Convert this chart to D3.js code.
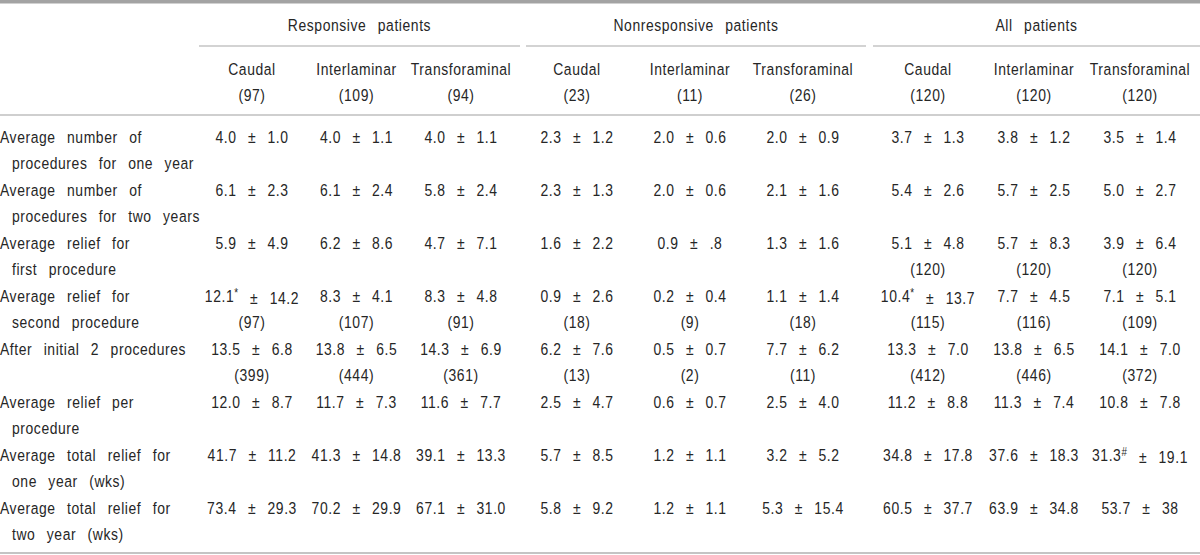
<!DOCTYPE html>
<html>
<head>
<meta charset="utf-8">
<script src="https://cdn.jsdelivr.net/npm/d3@7"></script>
<style>
  body { margin: 0; background: #fff; }
  svg text { font-family: "Liberation Sans", Arial, sans-serif; font-size: 17px; fill: #262626; letter-spacing: 0.7px; word-spacing: 8.5px; }
</style>
</head>
<body>
<div id="chart"></div>
<script>
// Table contents
const groups = ["Responsive patients", "Nonresponsive patients", "All patients"];
const methods = ["Caudal", "Interlaminar", "Transforaminal"];
const groupN = [[97, 109, 94], [23, 11, 26], [120, 120, 120]];

const rowLabels = [
  ["Average number of", "procedures for one year"],
  ["Average number of", "procedures for two years"],
  ["Average relief for", "first procedure"],
  ["Average relief for", "second procedure"],
  ["After initial 2 procedures"],
  ["Average relief per", "procedure"],
  ["Average total relief for", "one year (wks)"],
  ["Average total relief for", "two year (wks)"]
];

// 9 columns per row: responsive x3, nonresponsive x3, all x3
const means = [
  ["4.0", "4.0", "4.0", "2.3", "2.0", "2.0", "3.7", "3.8", "3.5"],
  ["6.1", "6.1", "5.8", "2.3", "2.0", "2.1", "5.4", "5.7", "5.0"],
  ["5.9", "6.2", "4.7", "1.6", "0.9", "1.3", "5.1", "5.7", "3.9"],
  ["12.1", "8.3", "8.3", "0.9", "0.2", "1.1", "10.4", "7.7", "7.1"],
  ["13.5", "13.8", "14.3", "6.2", "0.5", "7.7", "13.3", "13.8", "14.1"],
  ["12.0", "11.7", "11.6", "2.5", "0.6", "2.5", "11.2", "11.3", "10.8"],
  ["41.7", "41.3", "39.1", "5.7", "1.2", "3.2", "34.8", "37.6", "31.3"],
  ["73.4", "70.2", "67.1", "5.8", "1.2", "5.3", "60.5", "63.9", "53.7"]
];
const sds = [
  ["1.0", "1.1", "1.1", "1.2", "0.6", "0.9", "1.3", "1.2", "1.4"],
  ["2.3", "2.4", "2.4", "1.3", "0.6", "1.6", "2.6", "2.5", "2.7"],
  ["4.9", "8.6", "7.1", "2.2", ".8", "1.6", "4.8", "8.3", "6.4"],
  ["14.2", "4.1", "4.8", "2.6", "0.4", "1.4", "13.7", "4.5", "5.1"],
  ["6.8", "6.5", "6.9", "7.6", "0.7", "6.2", "7.0", "6.5", "7.0"],
  ["8.7", "7.3", "7.7", "4.7", "0.7", "4.0", "8.8", "7.4", "7.8"],
  ["11.2", "14.8", "13.3", "8.5", "1.1", "5.2", "17.8", "18.3", "19.1"],
  ["29.3", "29.9", "31.0", "9.2", "1.1", "15.4", "37.7", "34.8", "38"]
];
const marks = [
  ["", "", "", "", "", "", "", "", ""],
  ["", "", "", "", "", "", "", "", ""],
  ["", "", "", "", "", "", "", "", ""],
  ["*", "", "", "", "", "", "*", "", ""],
  ["", "", "", "", "", "", "", "", ""],
  ["", "", "", "", "", "", "", "", ""],
  ["", "", "", "", "", "", "", "", "#"],
  ["", "", "", "", "", "", "", "", ""]
];
const counts = [
  [null, null, null, null, null, null, null, null, null],
  [null, null, null, null, null, null, null, null, null],
  [null, null, null, null, null, null, 120, 120, 120],
  [97, 107, 91, 18, 9, 18, 115, 116, 109],
  [399, 444, 361, 13, 2, 11, 412, 446, 372],
  [null, null, null, null, null, null, null, null, null],
  [null, null, null, null, null, null, null, null, null],
  [null, null, null, null, null, null, null, null, null]
];

const width = 1200, height = 555;
const lineGap = 26.4;
const sx = 0.82; // condensed look of the original typeface

const svg = d3.select("#chart")
  .append("svg")
  .attr("width", width)
  .attr("height", height);

// group spans (rules under the group headers) and column centres
const groupSpans = [[199, 520], [526, 866], [873, 1200]];
const colRanges = [[252, 461], [577, 803], [928, 1140]];
const colX = colRanges.map(r => d3.scalePoint().domain(methods).range(r));

const y = d3.scalePoint()
  .domain(d3.range(rowLabels.length))
  .range([137, 508]);

// narrow text helper
function addText(x, yy, anchor) {
  return svg.append("text")
    .attr("transform", `translate(${x},${yy}) scale(${sx},1)`)
    .attr("dy", "0.35em")
    .attr("text-anchor", anchor || "start");
}

// rules
svg.append("rect").attr("x", 0).attr("y", 0).attr("width", width).attr("height", 3.5).attr("fill", "#a3a3a3");
svg.append("line").attr("x1", 0).attr("x2", width).attr("y1", 115).attr("y2", 115)
  .attr("stroke", "#cfcfcf").attr("stroke-width", 2);
svg.append("line").attr("x1", 0).attr("x2", width).attr("y1", 553).attr("y2", 553)
  .attr("stroke", "#c4c4c4").attr("stroke-width", 2);

// group headers
groups.forEach((g, gi) => {
  const [a, b] = groupSpans[gi];
  addText((a + b) / 2, 25, "middle").text(g);
  svg.append("line")
    .attr("x1", a).attr("x2", b).attr("y1", 46).attr("y2", 46)
    .attr("stroke", "#c4c4c4").attr("stroke-width", 1.5);

  methods.forEach((m, mi) => {
    addText(colX[gi](m), 69, "middle").text(m);
    addText(colX[gi](m), 95, "middle").text(`(${groupN[gi][mi]})`);
  });
});

// row labels
rowLabels.forEach((lines, ri) => {
  lines.forEach((l, li) => {
    addText(li === 0 ? 0 : 12, y(ri) + li * lineGap).text(l);
  });
});

// cells
means.forEach((row, ri) => {
  row.forEach((m, ci) => {
    const gi = Math.floor(ci / 3), mi = ci % 3;
    const cx = colX[gi](methods[mi]);
    const t = addText(cx, y(ri), "middle");
    t.append("tspan").text(m);
    if (marks[ri][ci]) {
      t.append("tspan").attr("dy", "-0.4em").style("font-size", "12px").text(marks[ri][ci]);
      t.append("tspan").attr("dy", "0.4em").text(" \u00b1 " + sds[ri][ci]);
    } else {
      t.append("tspan").text(" \u00b1 " + sds[ri][ci]);
    }
    if (counts[ri][ci] != null) {
      addText(cx, y(ri) + lineGap, "middle").text(`(${counts[ri][ci]})`);
    }
  });
});
</script>
</body>
</html>
